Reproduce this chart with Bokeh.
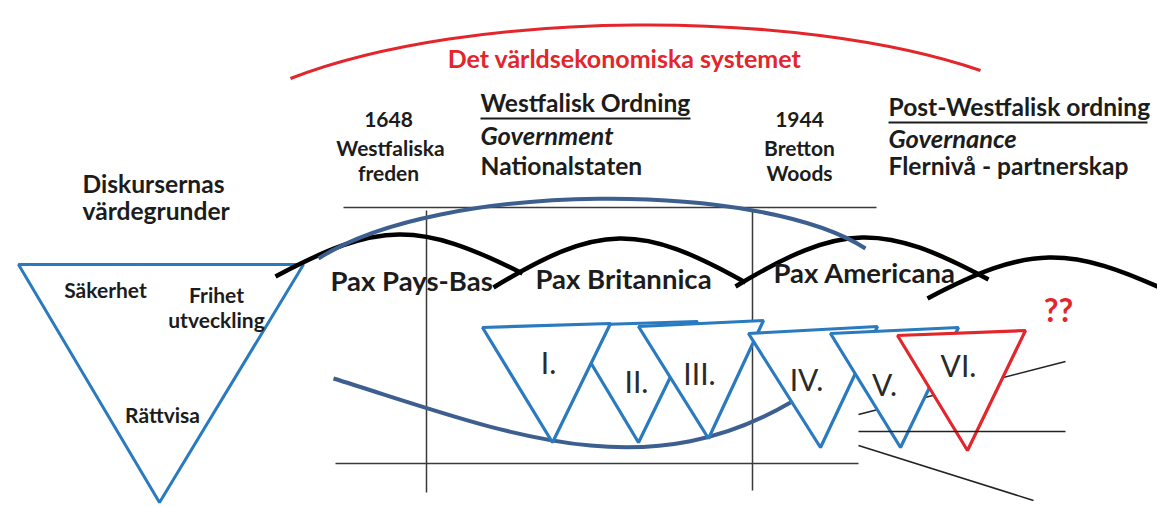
from bokeh.plotting import figure
from bokeh.models import ColumnDataSource, Range1d
from bokeh.embed import file_html
from bokeh.resources import INLINE
from bokeh.core.properties import value

# ---------------- data (diagram geometry in reference pixel units) ----------------
# red arc: "Det världsekonomiska systemet"
red_arc = dict(x0=[290], y0=[78], x1=[980], y1=[70], cx0=[470], cy0=[8], cx1=[800], cy1=[8])

# black waves (Pax eras): start, end, peak height
wave_x0 = [275, 493, 735, 927]
wave_y0 = [276, 287, 286, 298]
wave_x1 = [522, 745, 988, 1170]
wave_y1 = [273, 282, 279, 292]
wave_peak = [234, 238, 237, 257]

# dark blue arcs (upper & lower)
blue_arc_x0 = [318, 333]
blue_arc_y0 = [258, 378]
blue_arc_x1 = [865, 790]
blue_arc_y1 = [248, 402]
blue_arc_cx0 = [440, 500]
blue_arc_cy0 = [180, 430]
blue_arc_cx1 = [760, 640]
blue_arc_cy1 = [180, 490]

# thin frame lines
hline_x0 = [343, 335]
hline_x1 = [876, 858]
hline_y = [207, 463]
mid_line_x0, mid_line_x1, mid_line_y = [858], [1065], [431]
vline_x = [426, 752]
vline_y0 = [210, 210]
vline_y1 = [492, 490]
diag_x0 = [858, 858]
diag_y0 = [414, 445]
diag_x1 = [1065, 1033]
diag_y1 = [361, 500]

# big values triangle
values_tri_x = [18, 303, 159]
values_tri_y = [264, 264, 502]

# period triangles (draw order II, I, III, IV, V, VI)
tri_names = ["II.", "I.", "III.", "IV.", "V.", "VI."]
tri_left = [(568, 325), (482, 327), (638, 326), (748, 333), (830, 333), (897, 335)]
tri_right = [(697, 321), (610, 323), (763, 320), (877, 326), (958, 327), (1025, 330)]
tri_bottom = [(638, 442), (552, 442), (708, 438), (820, 447), (900, 447), (967, 450)]
tri_colors = ["#2a7abf", "#2a7abf", "#2a7abf", "#2a7abf", "#2a7abf", "#e3262b"]
tri_label_x = [636, 548, 699, 806, 884, 958]
tri_label_y = [392, 373, 384, 390, 395, 376]

# texts (y = baseline)
centered_bold = ["1648", "Westfaliska", "freden", "1944", "Bretton", "Woods"]
centered_bold_x = [388, 390, 388, 799, 799, 799]
centered_bold_y = [127, 155, 180, 127, 155, 180]

left_bold = ["Westfalisk Ordning", "Nationalstaten", "Post-Westfalisk ordning",
             "Flernivå - partnerskap", "Diskursernas", "värdegrunder"]
left_bold_x = [480, 480, 888, 888, 82, 82]
left_bold_y = [112, 175, 116, 175, 193, 220]

italic_texts = ["Government", "Governance"]
italic_x = [480, 888]
italic_y = [145, 148]

underline_x0 = [480, 888]
underline_x1 = [690, 1147]
underline_y = [118, 122]

pax_texts = ["Pax Pays-Bas", "Pax Britannica", "Pax Americana"]
pax_x = [330, 535, 773]
pax_y = [291, 289, 283]

value_texts = ["Säkerhet", "Frihet", "utveckling", "Rättvisa"]
value_x = [105, 216, 216, 162]
value_y = [297, 302, 327, 422]

title = "Det världsekonomiska systemet"
title_x, title_y = 624, 67
question = "??"
question_x, question_y = 1058, 322

# ---------------- figure ----------------
W, H = 1157, 507
p = figure(width=W, height=H, x_range=Range1d(0, W), y_range=Range1d(H, 0),
           output_backend="svg", toolbar_location=None, x_axis_type=None, y_axis_type=None,
           min_border=0, min_border_left=0, min_border_right=0, min_border_top=0, min_border_bottom=0)
p.grid.visible = False
p.outline_line_color = None
p.background_fill_color = "white"
p.border_fill_color = "white"

FONT = value("Lato")
TXT = "#1c1c1c"
BLUE = "#2a7abf"
DARK = "#3d5f8f"
RED = "#e3262b"
BASE_FIX = 0.4  # renderer places alphabetic baseline ~0.4em low


def fix(ys, fs):
    return [y - BASE_FIX * fs for y in ys]


# red arc
p.bezier(source=ColumnDataSource(red_arc), x0="x0", y0="y0", x1="x1", y1="y1",
         cx0="cx0", cy0="cy0", cx1="cx1", cy1="cy1", line_color=RED, line_width=3)

# thin lines
p.segment(x0=hline_x0, y0=hline_y, x1=hline_x1, y1=hline_y, line_color="#3a3a3a", line_width=1.5)
p.segment(x0=vline_x, y0=vline_y0, x1=vline_x, y1=vline_y1, line_color="#3a3a3a", line_width=1.5)

# lower blue arc (behind triangles)
p.bezier(x0=blue_arc_x0[1:], y0=blue_arc_y0[1:], x1=blue_arc_x1[1:], y1=blue_arc_y1[1:],
         cx0=blue_arc_cx0[1:], cy0=blue_arc_cy0[1:], cx1=blue_arc_cx1[1:], cy1=blue_arc_cy1[1:],
         line_color=DARK, line_width=4)

# diagonal thin lines (behind triangles)
p.segment(x0=diag_x0, y0=diag_y0, x1=diag_x1, y1=diag_y1, line_color="#222222", line_width=1.5)

# values triangle
p.patch(values_tri_x, values_tri_y, fill_color="white", line_color=BLUE, line_width=3)

# period triangles
xs = [[l[0], r[0], b[0]] for l, r, b in zip(tri_left, tri_right, tri_bottom)]
ys = [[l[1], r[1], b[1]] for l, r, b in zip(tri_left, tri_right, tri_bottom)]
p.patches(xs=xs, ys=ys, fill_color="white", line_color=tri_colors, line_width=3.2)

# horizontal line crossing the last triangles (on top)
p.segment(x0=mid_line_x0, y0=mid_line_y, x1=mid_line_x1, y1=mid_line_y,
          line_color="#222222", line_width=1.5)

# black waves (half-sine humps)
k = 0.42
wx_c0 = [a + k * (b - a) for a, b in zip(wave_x0, wave_x1)]
wx_c1 = [b - k * (b - a) for a, b in zip(wave_x0, wave_x1)]
wy_c = [(pk - 0.125 * (a + b)) / 0.75 for pk, a, b in zip(wave_peak, wave_y0, wave_y1)]
p.bezier(x0=wave_x0, y0=wave_y0, x1=wave_x1, y1=wave_y1, cx0=wx_c0, cy0=wy_c,
         cx1=wx_c1, cy1=wy_c, line_color="black", line_width=4.5)

# upper blue arc
p.bezier(x0=blue_arc_x0[:1], y0=blue_arc_y0[:1], x1=blue_arc_x1[:1], y1=blue_arc_y1[:1],
         cx0=blue_arc_cx0[:1], cy0=blue_arc_cy0[:1], cx1=blue_arc_cx1[:1], cy1=blue_arc_cy1[:1],
         line_color=DARK, line_width=4)

# texts
p.text(x=[title_x], y=fix([title_y], 25), text=[title], text_font=FONT, text_font_style="bold",
       text_font_size="25px", text_color=RED, text_align="center", text_baseline="alphabetic")
p.text(x=centered_bold_x, y=fix(centered_bold_y, 21), text=centered_bold, text_font=FONT,
       text_font_style="bold", text_font_size="21px", text_color=TXT, text_align="center",
       text_baseline="alphabetic")
p.text(x=left_bold_x, y=fix(left_bold_y, 24.6), text=left_bold, text_font=FONT, text_font_style="bold",
       text_font_size="24.6px", text_color=TXT, text_align="left", text_baseline="alphabetic")
p.text(x=italic_x, y=fix(italic_y, 25.5), text=italic_texts, text_font=FONT, text_font_style="bold italic",
       text_font_size="25.5px", text_color=TXT, text_align="left", text_baseline="alphabetic")
p.segment(x0=underline_x0, y0=underline_y, x1=underline_x1, y1=underline_y,
          line_color=TXT, line_width=2)
p.text(x=pax_x, y=fix(pax_y, 27.5), text=pax_texts, text_font=FONT, text_font_style="bold",
       text_font_size="27.5px", text_color=TXT, text_align="left", text_baseline="alphabetic")
p.text(x=value_x, y=fix(value_y, 21), text=value_texts, text_font=FONT, text_font_style="bold",
       text_font_size="21px", text_color=TXT, text_align="center", text_baseline="alphabetic")
p.text(x=tri_label_x, y=fix(tri_label_y, 30), text=tri_names, text_font=FONT,
       text_font_size="30px", text_color="#2a2a2a", text_align="center", text_baseline="alphabetic")
p.text(x=[question_x], y=fix([question_y], 32), text=[question], text_font=FONT, text_font_style="bold",
       text_font_size="32px", text_color=RED, text_align="center", text_baseline="alphabetic")

open("out.html", "w").write(file_html(p, INLINE))
